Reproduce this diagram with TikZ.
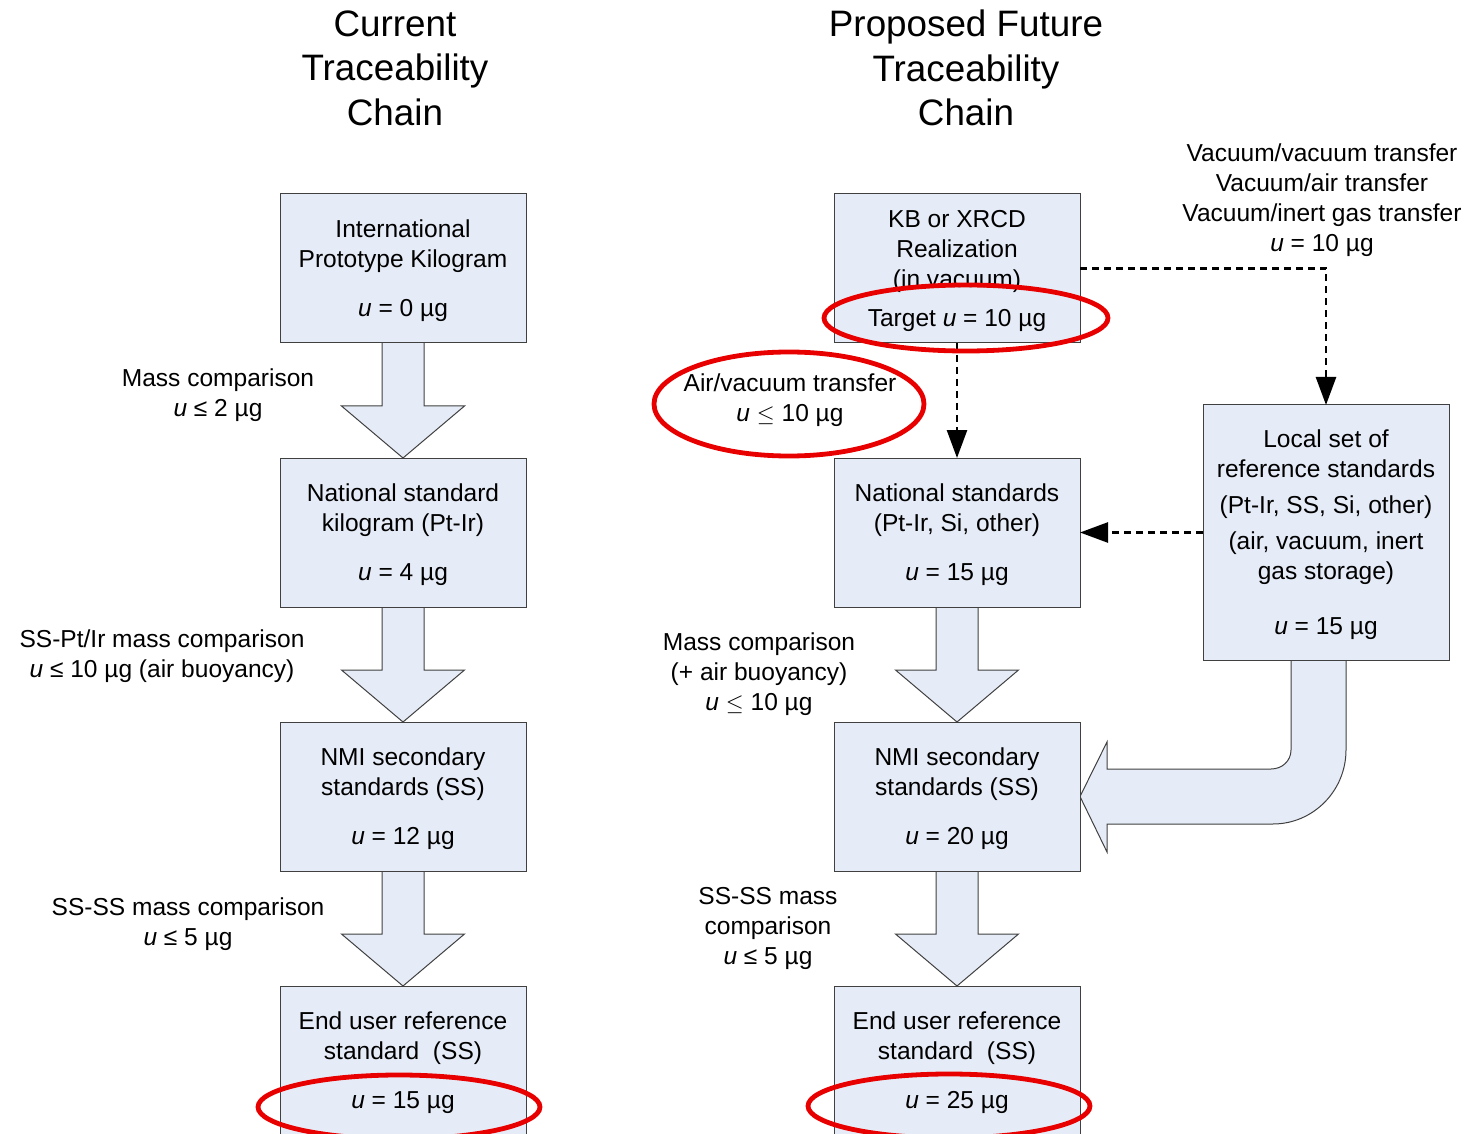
\documentclass[tikz,border=0pt]{standalone}
\usepackage{fontspec}
\setmainfont{Liberation Sans}
\usetikzlibrary{arrows.meta,calc,backgrounds}
\definecolor{boxfill}{RGB}{230,236,247}
\definecolor{boxline}{RGB}{64,64,64}
\definecolor{ringred}{RGB}{232,0,0}
\tikzset{
 chainbox/.style={draw=boxline, fill=boxfill, line width=0.75pt, minimum width=184.5pt, minimum height=111.75pt, align=center, inner sep=0pt, outer sep=0pt, font=\fontsize{18.4}{22.5}\selectfont},
 lbl/.style={align=center, inner sep=0pt, font=\fontsize{18.4}{22.5}\selectfont},
 ttl/.style={align=center, inner sep=0pt, font=\fontsize{27.6}{33.4}\selectfont},
 barrow/.style={draw=boxline, fill=boxfill, line width=0.75pt, line join=miter},
 dasharrow/.style={line width=1.95pt, dash pattern=on 5.25pt off 3.75pt, -{Triangle[length=21pt,width=15pt]}},
 ring/.style={draw=ringred, line width=3.6pt},
}
\newcommand\chainarrow[2]{%
 \filldraw[barrow] ($(#1.south)+(-21,0)$) -- ($(#1.south)+(-21,63)$) -- ($(#1.south)+(-61.5,63)$) -- (#2.north) -- ($(#1.south)+(61.5,63)$) -- ($(#1.south)+(21,63)$) -- ($(#1.south)+(21,0)$);}
\newcommand\up{\rule{0pt}{16.5pt}}
\begin{document}
\begin{tikzpicture}[x=0.75pt,y=-0.75pt]
\useasboundingbox (0,0) rectangle (1468,1134);
% titles
\node[ttl] (T1) at (395,68) {Current\\Traceability\\Chain};
\node[ttl] (T2) at (966,68) {Proposed Future\\Traceability\\Chain};
% left chain
\node[chainbox] (L1) at (403,268.5) {\up International\\Prototype Kilogram\\[14.25pt]\textit{u} = 0 µg};
\node[chainbox] (L2) at (403,532.5) {\up National standard\\kilogram (Pt-Ir)\\[14.25pt]\textit{u} = 4 µg};
\node[chainbox] (L3) at (403,796.5) {\up NMI secondary\\standards (SS)\\[14.25pt]\textit{u} = 12 µg};
\node[chainbox] (L4) at (403,1060.5) {\up End user reference\\standard\ \ (SS)\\[14.25pt]\textit{u} = 15 µg};
% right chain
\node[chainbox] (R1) at (957,268.5) {\up KB or XRCD\\Realization\\(in vacuum)\\[6.75pt]Target \textit{u} = 10 µg};
\node[chainbox] (R2) at (957,532.5) {\up National standards\\(Pt-Ir, Si, other)\\[14.25pt]\textit{u} = 15 µg};
\node[chainbox] (R3) at (957,796.5) {\up NMI secondary\\standards (SS)\\[14.25pt]\textit{u} = 20 µg};
\node[chainbox] (R4) at (957,1060.5) {\up End user reference\\standard\ \ (SS)\\[14.25pt]\textit{u} = 25 µg};
\node[chainbox, minimum height=191.25pt] (LS) at (1326,532.5) {\up Local set of\\reference standards\\[4.5pt](Pt-Ir, SS, Si, other)\\[4.5pt](air, vacuum, inert\\gas storage)\\[18.75pt]\textit{u} = 15 µg};
% block arrows
\begin{scope}[on background layer]
\chainarrow{L1}{L2}
\chainarrow{L2}{L3}
\chainarrow{L3}{L4}
\chainarrow{R2}{R3}
\chainarrow{R3}{R4}
\filldraw[barrow] ($(LS.south)+(-35,0)$) -- ($(LS.south)+(-35,90)$)
  .. controls ($(LS.south)+(-35,101)$) and ($(LS.south)+(-44,109)$) .. ($(LS.south)+(-55,109)$)
  -- ($(R3.east)+(27,-27.5)$) -- ($(R3.east)+(27,-54.5)$) -- (R3.east)
  -- ($(R3.east)+(27,55.5)$) -- ($(R3.east)+(27,27.5)$) -- ($(LS.south)+(-53,164)$)
  .. controls ($(LS.south)+(-13,164)$) and ($(LS.south)+(20,131)$) .. ($(LS.south)+(20,90)$)
  -- ($(LS.south)+(20,0)$);
\end{scope}
% dashed connectors
\draw[dasharrow] (R1.east) -| (LS.north);
\draw[dasharrow] (R1.south) -- (R2.north);
\draw[dasharrow] (LS.west) -- (R2.east);
% labels
\node[lbl] (a1) at (218,395.5) {Mass comparison\\\textit{u} ≤ 2 µg};
\node[lbl] (a2) at (162,656) {SS-Pt/Ir mass comparison\\\textit{u} ≤ 10 µg (air buoyancy)};
\node[lbl] (a3) at (188,924) {SS-SS mass comparison\\\textit{u} ≤ 5 µg};
\node[lbl] (b1) at (1322,200) {Vacuum/vacuum transfer\\Vacuum/air transfer\\Vacuum/inert gas transfer\\\textit{u} = 10 µg};
\node[lbl] (b2) at (790,400) {Air/vacuum transfer\\\textit{u} $\leq$ 10 µg};
\node[lbl] (b3) at (759,674) {Mass comparison\\(+ air buoyancy)\\\textit{u} $\leq$ 10 µg};
\node[lbl] (b4) at (768,928) {SS-SS mass\\comparison\\\textit{u} ≤ 5 µg};
% red rings
\draw[ring] (966,318) ellipse [x radius=142, y radius=33];
\draw[ring] (789,404) ellipse [x radius=135, y radius=52];
\draw[ring] (399,1107) ellipse [x radius=141, y radius=32];
\draw[ring] (949,1106) ellipse [x radius=141, y radius=32];
\end{tikzpicture}
\end{document}
